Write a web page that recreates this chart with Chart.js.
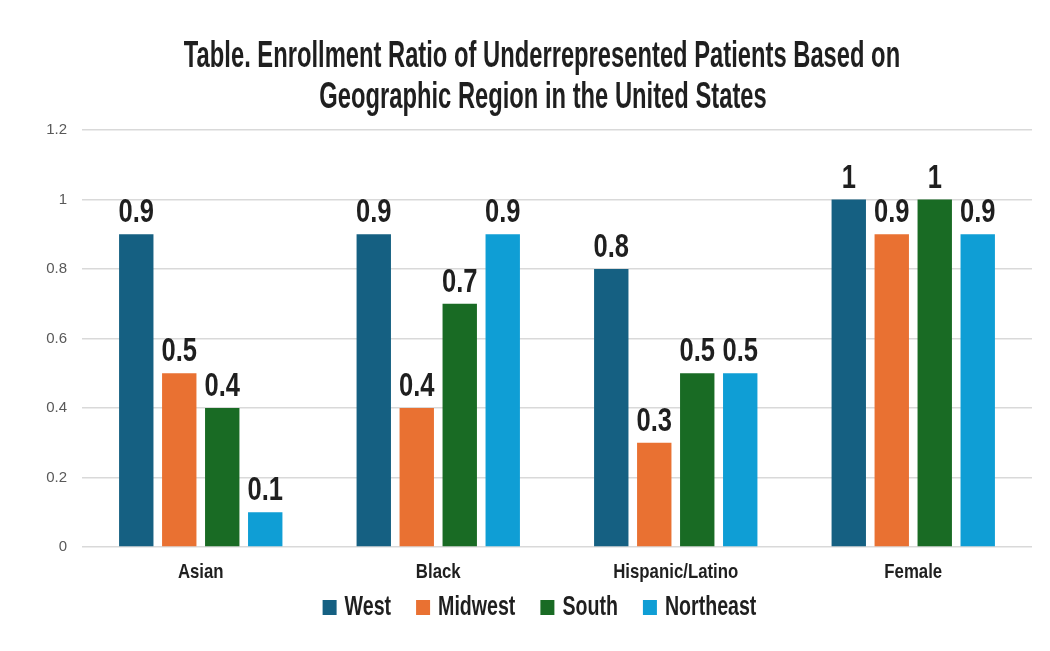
<!DOCTYPE html>
<html>
<head>
<meta charset="utf-8">
<script src="https://cdn.jsdelivr.net/npm/chart.js@4/dist/chart.umd.min.js"></script>
<style>
  html, body { margin: 0; padding: 0; background: #ffffff; }
  #wrap { width: 1050px; height: 651px; position: relative; }
</style>
</head>
<body>
<div id="wrap"><canvas id="c"></canvas></div>
<script>
// ---- data ----
const categories = ['Asian', 'Black', 'Hispanic/Latino', 'Female'];
const seriesNames = ['West', 'Midwest', 'South', 'Northeast'];
const westValues = [0.9, 0.9, 0.8, 1];
const midwestValues = [0.5, 0.4, 0.3, 0.9];
const southValues = [0.4, 0.7, 0.5, 1];
const northeastValues = [0.1, 0.9, 0.5, 0.9];
const yTickLabels = ['0', '0.2', '0.4', '0.6', '0.8', '1', '1.2'];
const titleLines = ['Table. Enrollment Ratio of Underrepresented Patients Based on', 'Geographic Region in the United States'];

const seriesColors = ['#156082', '#E97132', '#196B24', '#0F9ED5'];
const NARROW = '"Liberation Sans", Arial, sans-serif';
const TEXT = '#1f1f1f';

function condensedText(ctx, text, x, y, px, sx, align, color) {
  ctx.save();
  ctx.font = 'bold ' + px + 'px ' + NARROW;
  ctx.fillStyle = color;
  ctx.textBaseline = 'alphabetic';
  ctx.textAlign = align;
  ctx.translate(x, y);
  ctx.scale(sx, 1);
  ctx.fillText(text, 0, 0);
  ctx.restore();
}
function condensedWidth(ctx, text, px, sx) {
  ctx.save();
  ctx.font = 'bold ' + px + 'px ' + NARROW;
  const w = ctx.measureText(text).width * sx;
  ctx.restore();
  return w;
}

const extrasPlugin = {
  id: 'extras',
  afterDraw(chart) {
    const ctx = chart.ctx;
    // title
    condensedText(ctx, titleLines[0], 542, 67, 37, 0.642, 'center', TEXT);
    condensedText(ctx, titleLines[1], 543, 108, 37, 0.642, 'center', TEXT);
    // category labels through the x scale
    const xs = chart.scales.x;
    chart.data.labels.forEach((lab, i) => {
      condensedText(ctx, lab, xs.getPixelForValue(i), 578, 21, 0.8, 'center', TEXT);
    });
    // data labels
    chart.data.datasets.forEach((ds, di) => {
      const meta = chart.getDatasetMeta(di);
      meta.data.forEach((bar, i) => {
        condensedText(ctx, String(ds.data[i]), bar.x, bar.y - 12, 34, 0.75, 'center', TEXT);
      });
    });
    // legend
    const px = 28, sx = 0.70, box = 14, textGap = 22, itemGap = 25;
    const widths = chart.data.datasets.map(ds => textGap + condensedWidth(ctx, ds.label, px, sx));
    const total = widths.reduce((a, b) => a + b, 0) + itemGap * (widths.length - 1);
    let x = 539.5 - total / 2;
    chart.data.datasets.forEach((ds, di) => {
      ctx.save();
      ctx.fillStyle = ds.backgroundColor;
      ctx.fillRect(x, 600, box, 15);
      ctx.restore();
      condensedText(ctx, ds.label, x + textGap, 615, px, sx, 'left', TEXT);
      x += widths[di] + itemGap;
    });
  }
};

const valueSets = [westValues, midwestValues, southValues, northeastValues];
new Chart(document.getElementById('c'), {
  type: 'bar',
  data: {
    labels: categories,
    datasets: seriesNames.map((name, i) => ({
      label: name,
      data: valueSets[i],
      backgroundColor: seriesColors[i],
      borderWidth: 0,
      categoryPercentage: 0.724,
      barPercentage: 0.8
    }))
  },
  options: {
    responsive: true,
    maintainAspectRatio: false,
    animation: false,
    devicePixelRatio: 1,
    layout: { padding: { top: 130, bottom: 64, left: 0, right: 18 } },
    plugins: {
      legend: { display: false },
      title: { display: false },
      tooltip: { enabled: false }
    },
    scales: {
      x: {
        grid: { display: false },
        border: { display: false },
        ticks: { display: false },
        afterFit(scale) { scale.height = 40; }
      },
      y: {
        min: 0,
        max: 1.2,
        border: { display: false },
        grid: { color: '#d9d9d9', lineWidth: 1.5, drawTicks: false },
        ticks: {
          stepSize: 0.2,
          padding: 15,
          color: '#595959',
          font: { family: '"Liberation Sans", Arial, sans-serif', size: 15 },
          callback: (v, idx) => yTickLabels[idx]
        },
        afterFit(scale) { scale.width = 82; }
      }
    }
  },
  plugins: [extrasPlugin]
});
</script>
</body>
</html>
